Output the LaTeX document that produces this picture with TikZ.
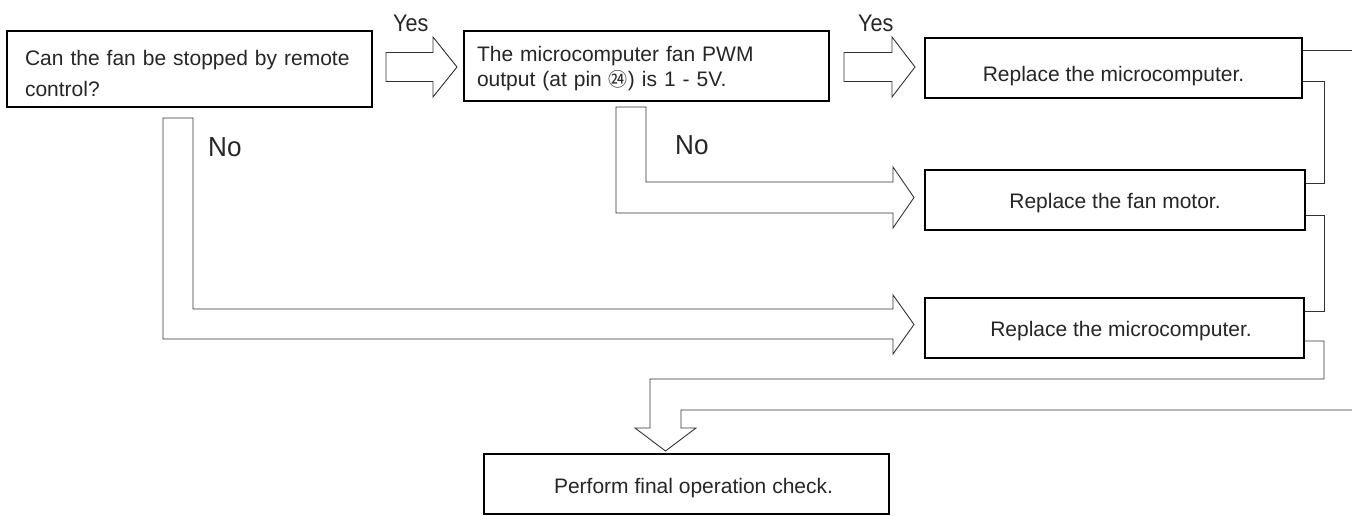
\documentclass[tikz,border=0pt]{standalone}
\usepackage{fontspec}
\setmainfont{Liberation Sans}
\newfontfamily\cjkfont{Noto Sans CJK SC}
\begin{document}
\begin{tikzpicture}[x=1pt,y=-1pt,
  box/.style={draw=black,line width=1.6pt,fill=white,rectangle,inner ysep=0pt,text=black!85,
    font=\fontsize{21}{25}\selectfont},
  conn/.style={draw=black!80,line width=0.9pt},
  blk/.style={draw=black!80,line width=0.9pt,fill=white,line join=miter},
  yeslbl/.style={anchor=base west,inner sep=0pt,text=black!85,font=\fontsize{24}{28}\selectfont},
  nolbl/.style={anchor=base west,inner sep=0pt,text=black!85,font=\fontsize{27.5}{32}\selectfont}]
\useasboundingbox (0,0) rectangle (1352,516);

% boxes
\node[box,minimum width=365pt,minimum height=76pt,text width=329pt,align=left,inner xsep=18pt,
  text height=0pt,text depth=6.6pt,font=\fontsize{21}{31}\selectfont]
  (b1) at (189.5,69) {Can the fan be stopped by remote\\control?};
\node[box,minimum width=365pt,minimum height=70pt,text width=339pt,align=left,inner xsep=13pt,
  text height=0pt,text depth=8pt]
  (b2) at (646.5,66) {The microcomputer fan PWM\\output (at pin {\cjkfont\fontsize{19}{25}\selectfont ㉔}) is 1 - 5V.};
\node[box,minimum width=377pt,minimum height=60pt,text height=28pt,text depth=0pt]
  (b3) at (1113.5,68) {Replace the microcomputer.};
\node[box,minimum width=380pt,minimum height=60pt,text height=16pt,text depth=0pt]
  (b4) at (1115,200) {Replace the fan motor.};
\node[box,minimum width=379pt,minimum height=60pt,text height=16pt,text depth=0pt]
  (b5) at (1114.5,328) {\hspace*{13pt}Replace the microcomputer.};
\node[box,minimum width=405pt,minimum height=60pt,text height=18pt,text depth=0pt]
  (b6) at (686.5,484) {\hspace*{14pt}Perform final operation check.};

% labels
\node[yeslbl] (yes1) at (393,31.5) {\scalebox{0.9}[1]{Yes}};
\node[yeslbl] (yes2) at (858,31.5) {\scalebox{0.9}[1]{Yes}};
\node[nolbl] (no1) at (208,157) {\scalebox{0.95}[1]{No}};
\node[nolbl] (no2) at (675,155) {\scalebox{0.95}[1]{No}};

% block arrows
\draw[blk] (386,52.5) -- (433,52.5) -- (433,37) -- (457,67) -- (433,97) -- (433,81.5) -- (386,81.5) -- cycle;
\draw[blk] (844,52.5) -- (892,52.5) -- (892,37) -- (915,67) -- (892,97) -- (892,81.5) -- (844,81.5) -- cycle;
\draw[blk] (616,107) -- (646,107) -- (646,182) -- (893,182) -- (893,167) -- (914,197.5) -- (893,228) -- (893,213) -- (616,213) -- cycle;
\draw[blk] (163,118) -- (193,118) -- (193,309) -- (893,309) -- (893,295) -- (914,324.5) -- (893,354) -- (893,339) -- (163,339) -- cycle;

% right-side connectors
\coordinate (edgeA) at (1352,50);
\coordinate (edgeB) at (1352,410);
\draw[conn] ([yshift=18pt]b3.east) -- (edgeA);
\draw[conn] ([yshift=-13pt]b3.east) -| (1324,183) -- ([yshift=17pt]b4.east);
\draw[conn] ([yshift=-15pt]b4.east) -| (1324,311) -- ([yshift=17pt]b5.east);
\draw[conn] ([yshift=-13pt]b5.east) -| (1324,379) -- (650,379) -- (650,428) -- (635,428)
  -- (665.5,451) -- (696,428) -- (681,428) -- (681,410) -- (edgeB);
\end{tikzpicture}
\end{document}
